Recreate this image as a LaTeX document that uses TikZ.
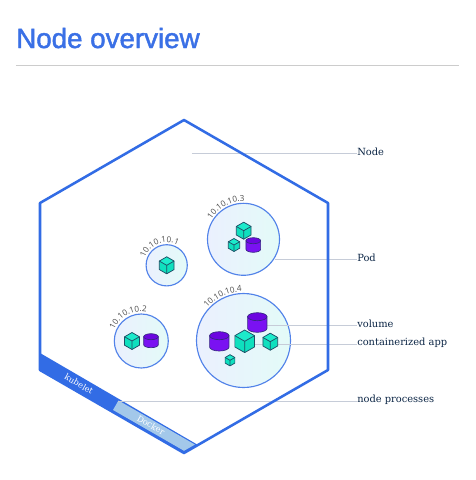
\documentclass[tikz,border=0pt]{standalone}
\usepackage{fontspec}
\usetikzlibrary{decorations.text}
\setmainfont{DejaVu Serif}
\newfontfamily\titlefont[FakeBold=1.6]{Liberation Sans}
\newfontfamily\ipfont{Open Sans}
\definecolor{k8s}{HTML}{326CE5}
\definecolor{titleblue}{HTML}{3A70E6}
\definecolor{rulegrey}{HTML}{CCCCCC}
\definecolor{leader}{HTML}{C6CCD8}
\definecolor{docker}{HTML}{A3C8EA}
\definecolor{labelink}{HTML}{0B2545}
\definecolor{cubefill}{HTML}{0FE0BE}
\definecolor{cubetop}{HTML}{1CEBCB}
\definecolor{iconline}{HTML}{1F4E66}
\definecolor{cylfill}{HTML}{7A12F2}
\definecolor{cyltop}{HTML}{6C06E0}
\definecolor{cylline}{HTML}{352A80}
\definecolor{podleft}{HTML}{EBF0FE}
\definecolor{podright}{HTML}{E3FBF8}
\tikzset{
  x=0.75pt,y=-0.75pt,
  podcircle/.style={draw=k8s!85!white,line width=0.85pt,left color=podleft,right color=podright},
  leaderline/.style={draw=leader,line width=0.75pt},
  calltext/.style={anchor=west,inner sep=0pt,text=labelink,font=\fontsize{7.4}{9}\selectfont},
  bandtext/.style={inner sep=0pt,rotate=-30,font=\fontsize{6.2}{7}\selectfont},
  iptext/.style={decorate,decoration={text along path,raise=0.3pt,text color=black!70,
     text={|\ipfont\fontsize{6.1}{8}\selectfont|#1}}},
  cubeline/.style={draw=iconline,line width=0.55pt,line join=round},
}
\newcommand{\cubeat}[3]{%
  \begin{scope}[shift={(#1,#2)}]
    \pgfmathsetmacro{\cs}{#3}\pgfmathsetmacro{\ch}{0.87*#3}\pgfmathsetmacro{\cq}{0.5*#3}
    \fill[cubefill] (0,-\cs) -- (\ch,-\cq) -- (\ch,\cq) -- (0,\cs) -- (-\ch,\cq) -- (-\ch,-\cq) -- cycle;
    \fill[cubetop] (0,-\cs) -- (\ch,-\cq) -- (0,0) -- (-\ch,-\cq) -- cycle;
    \draw[cubeline] (0,-\cs) -- (\ch,-\cq) -- (\ch,\cq) -- (0,\cs) -- (-\ch,\cq) -- (-\ch,-\cq) -- cycle;
    \draw[cubeline] (-\ch,-\cq) -- (0,0) -- (\ch,-\cq) (0,0) -- (0,\cs);
  \end{scope}}
\newcommand{\cylat}[5]{% cx, top y of body, bottom y of body, half width, ry
  \draw[draw=cylline,fill=cylfill,line width=0.5pt]
    (#1-#4,#2) -- (#1-#4,#3) arc[start angle=180,end angle=0,x radius=#4,y radius=#5] -- (#1+#4,#2) -- cycle;
  \draw[draw=cylline,fill=cyltop,line width=0.5pt] (#1,#2) ellipse [x radius=#4,y radius=#5];}
\begin{document}
\begin{tikzpicture}
\useasboundingbox (0,0) rectangle (476,480);
\fill[white] (0,0) rectangle (476,480);
% title
\node[anchor=base west,inner sep=0pt,text=titleblue,font=\titlefont\fontsize{20.8}{24}\selectfont] (title) at (16,48) {Node overview};
\coordinate (ruleA) at (16,65.5);
\coordinate (ruleB) at (459,65.5);
\draw[rulegrey,line width=0.75pt] (ruleA) -- (ruleB);
% band of node processes
\fill[k8s] (40,353) -- (198,445) -- (184,453) -- (40,370) -- cycle;
\fill[docker] (118.5,400.5) -- (195,444.6) -- (184,450.8) -- (113,410) -- cycle;
% pods
\draw[podcircle] (243.5,239.3) circle [radius=36];
\draw[podcircle] (243.5,340.5) circle [radius=47];
\draw[podcircle] (166.7,265.3) circle [radius=20.6];
\draw[podcircle] (141.3,341) circle [radius=27];
% ip labels
\path[iptext={10.10.10.3}] (243.5,239.3) ++(212:37.5) arc[start angle=212,end angle=290,radius=37.5];
\path[iptext={10.10.10.4}] (243.5,340.5) ++(222:48.5) arc[start angle=222,end angle=285,radius=48.5];
\path[iptext={10.10.10.1}] (166.7,265.3) ++(199:22.5) arc[start angle=199,end angle=340,radius=22.5];
\path[iptext={10.10.10.2}] (141.3,341) ++(203:29) arc[start angle=203,end angle=320,radius=29];
% callouts
\node[calltext] (lnode) at (357,152) {Node};
\node[calltext] (lpod) at (357,257.5) {Pod};
\node[calltext] (lvol) at (357,324) {volume};
\node[calltext] (lapp) at (357,342.5) {containerized app};
\node[calltext] (lproc) at (357,400) {node processes};
\coordinate (fnode) at (192,153);
\coordinate (fpod) at (275,259);
\coordinate (fvol) at (262,325);
\coordinate (fapp) at (250,344);
\coordinate (fproc) at (118,401);
\draw[leaderline] (fnode) -- (fnode -| lnode.west);
\draw[leaderline] (fpod) -- (fpod -| lpod.west);
\draw[leaderline] (fvol) -- (fvol -| lvol.west);
\draw[leaderline] (fapp) -- (fapp -| lapp.west);
\draw[leaderline] (fproc) -- (fproc -| lproc.west);
% hexagon outline, over the leaders
\draw[k8s,line width=1.9pt,line join=round] (184,120) -- (328,203) -- (328,370) -- (184,453) -- (40,370) -- (40,203) -- cycle;
% band labels
\node[bandtext,text=white] (kubelet) at (79,384) {kubelet};
\node[bandtext,text=white] (dockerlabel) at (151,425) {Docker};
% icons
\cylat{257.3}{316.7}{328.3}{9.7}{4}
\cylat{219.3}{335.7}{347}{9.7}{4}
\cubeat{244.7}{341.3}{11.3}
\cubeat{270.3}{341.7}{8.5}
\cubeat{230}{360.3}{5.6}
\cubeat{243.7}{230.7}{8.5}
\cubeat{234}{245}{6.5}
\cylat{253.3}{240.7}{249.3}{7.3}{3}
\cubeat{166.7}{265.3}{8.5}
\cubeat{132}{341}{8.5}
\cylat{151}{336.7}{344.7}{7.3}{3}
\end{tikzpicture}
\end{document}
